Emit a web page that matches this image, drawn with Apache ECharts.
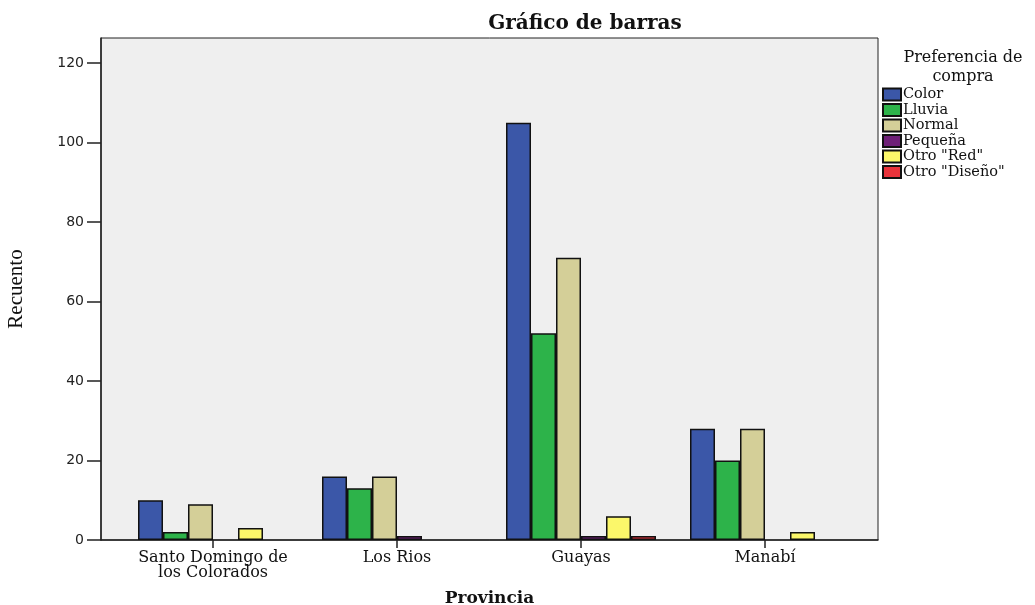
<!DOCTYPE html>
<html><head><meta charset="utf-8">
<script src="https://cdn.jsdelivr.net/npm/echarts@6/dist/echarts.min.js"></script>
<style>html,body{margin:0;padding:0;background:#fff}#c{width:1035px;height:605px}</style>
</head><body><div id="c"></div>
<script>
const categories = ['Santo Domingo de\nlos Colorados', 'Los Rios', 'Guayas', 'Manabí'];
const seriesNames = ['Color', 'Lluvia', 'Normal', 'Pequeña', 'Otro "Red"', 'Otro "Diseño"'];
const colorVals   = [10, 16, 105, 28];
const lluviaVals  = [2, 13, 52, 20];
const normalVals  = [9, 16, 71, 28];
const pequenaVals = [null, 1, 1, null];
const redVals     = [3, null, 6, 2];
const disenoVals  = [null, null, 1, null];
const yTicks = [0, 20, 40, 60, 80, 100, 120];
const colors = ['#3b57a8', '#2db34a', '#d4cf98', '#6e2077', '#fbf76a', '#e8333b'];
const allVals = [colorVals, lluviaVals, normalVals, pequenaVals, redVals, disenoVals];

const serif = '"DejaVu Serif", serif';
const chart = echarts.init(document.getElementById('c'), null, {renderer: 'canvas'});
const Y_MAX = 126.3;
const series = seriesNames.map((n, i) => ({
  name: n, type: 'bar', xAxisIndex: 1, yAxisIndex: 1,
  data: allVals[i], barWidth: 25, barGap: '0%',
  itemStyle: {color: colors[i], borderColor: '#111', borderWidth: 1.5},
  emphasis: {disabled: true}
}));
chart.setOption({
  animation: false,
  title: [
    {text: 'Gráfico de barras', left: 580, top: 9, textAlign: 'center',
     textStyle: {fontFamily: serif, fontSize: 20, fontWeight: 'bold', color: '#111'}},
    {text: 'Preferencia de\ncompra', left: 958, top: 43, textAlign: 'center',
     textStyle: {fontFamily: serif, fontSize: 16, fontWeight: 'normal', color: '#111', lineHeight: 19}}
  ],
  legend: {
    orient: 'vertical', left: 877, top: 82, itemWidth: 18, itemHeight: 12, itemGap: 0.5,
    icon: 'rect', data: seriesNames,
    textStyle: {fontFamily: serif, fontSize: 14.5, lineHeight: 12, color: '#111', padding: [0, 0, 0, -3]}
  },
  grid: [
    {left: 101, top: 38, width: 777, height: 502, show: true, backgroundColor: '#efefef',
     borderColor: '#222', borderWidth: 1, outerBoundsMode: 'none', containLabel: false},
    {left: 121, top: 38, width: 736, height: 502, outerBoundsMode: 'none', containLabel: false}
  ],
  xAxis: [
    {type: 'category', gridIndex: 0, data: categories, axisLabel: {show: false},
     axisTick: {show: false}, axisLine: {lineStyle: {color: '#222', width: 1.5}},
     name: 'Provincia', nameLocation: 'middle', nameGap: 50,
     nameTextStyle: {fontFamily: serif, fontSize: 17, fontWeight: 'bold', color: '#111'}},
    {type: 'category', gridIndex: 1, data: categories, axisLine: {show: false},
     axisTick: {show: true, interval: 0, alignWithLabel: true, length: 8, lineStyle: {color: '#222', width: 1.5}},
     axisLabel: {interval: 0, hideOverlap: false, fontFamily: serif, fontSize: 16, color: '#111', lineHeight: 15, margin: 10}}
  ],
  yAxis: [
    {type: 'value', gridIndex: 0, min: 0, max: Y_MAX, interval: 20,
     splitLine: {show: false},
     axisLine: {show: true, lineStyle: {color: '#222', width: 1.5}},
     axisTick: {show: true, length: 14, customValues: yTicks, lineStyle: {color: '#222', width: 1.5}},
     axisLabel: {fontFamily: '"DejaVu Sans", sans-serif', fontSize: 14, color: '#222', margin: 17,
       customValues: yTicks},
     name: 'Recuento', nameLocation: 'middle', nameGap: 74, nameRotate: 90,
     nameTextStyle: {fontFamily: '"Liberation Serif", serif', fontSize: 21, fontWeight: 'normal', color: '#111'}},
    {type: 'value', gridIndex: 1, min: 0, max: Y_MAX, show: false, splitLine: {show: false}}
  ],
  series: series
});
</script></body></html>
